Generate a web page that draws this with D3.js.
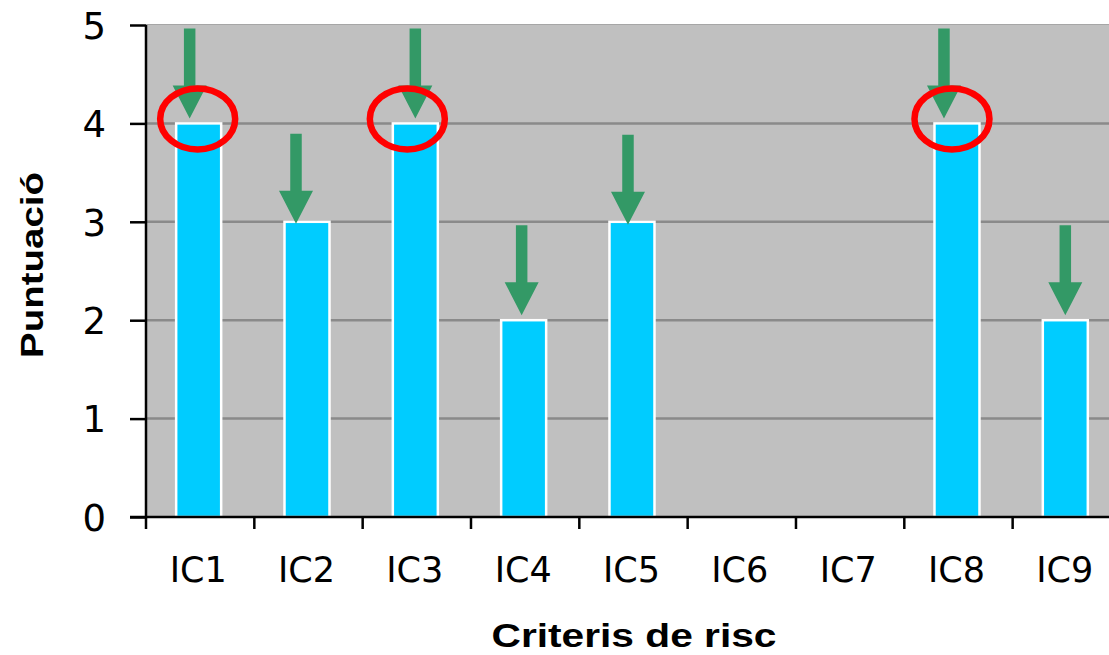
<!DOCTYPE html>
<html>
<head>
<meta charset="utf-8">
<script src="https://cdn.jsdelivr.net/npm/d3@7"></script>
<style>
  html, body { margin: 0; padding: 0; background: #fff; }
  svg { display: block; }
</style>
</head>
<body>
<script>
/* global d3 */
// chart values
const categories = ['IC1', 'IC2', 'IC3', 'IC4', 'IC5', 'IC6', 'IC7', 'IC8', 'IC9'];
const scores = [4, 3, 4, 2, 3, 0, 0, 4, 2];
const yTicks = [0, 1, 2, 3, 4, 5];
// which criteria get a green arrow / red circle
const arrowed = ['IC1', 'IC2', 'IC3', 'IC4', 'IC5', 'IC8', 'IC9'];
const circled = ['IC1', 'IC3', 'IC8'];

(function() {
  'use strict';

  const w = 1109;
  const h = 655;
  const left = 146;
  const top = 25;
  const bottom = 517;
  const step = 108.33;

  // hand-drawn annotations sit a bit off centre, in px
  const arrowShift = { IC1: [-9, 0], IC2: [-11, 7], IC3: [0, 0], IC4: [-2, 0], IC5: [-4, 8], IC8: [-13, 0], IC9: [0, 0] };
  const circleShift = { IC1: [-1, 0], IC3: [-8, 0], IC8: [-5, 0] };

  const xScale = d3.scaleBand()
    .domain(categories)
    .range([left, left + step * categories.length]);

  const yScale = d3.scaleLinear()
    .domain([0, 5])
    .range([bottom, top]);

  const svg = d3.select('body')
    .append('svg')
    .attr('width', w)
    .attr('height', h);

  // plot area
  svg.append('rect')
    .attr('x', left)
    .attr('y', top)
    .attr('width', w - left)
    .attr('height', bottom - top)
    .attr('fill', '#c0c0c0');
  svg.append('line')
    .attr('x1', left).attr('x2', w)
    .attr('y1', top - 0.5).attr('y2', top - 0.5)
    .attr('stroke', '#a6a6a6')
    .attr('stroke-width', 1);

  // gridlines
  svg.append('g')
    .selectAll('line')
    .data(yTicks.filter((d) => d > 0 && d < 5))
    .enter()
    .append('line')
    .attr('x1', left)
    .attr('x2', w)
    .attr('y1', (d) => yScale(d))
    .attr('y2', (d) => yScale(d))
    .attr('stroke', '#8a8a8a')
    .attr('stroke-width', 2.5);

  // bars
  const barW = 45;
  svg.append('g')
    .selectAll('rect')
    .data(categories.map((c, i) => ({ cat: c, v: scores[i] })).filter((d) => d.v > 0))
    .enter()
    .append('rect')
    .attr('x', (d) => xScale(d.cat) + xScale.bandwidth() / 2 - 1.5 - barW / 2)
    .attr('y', (d) => yScale(d.v))
    .attr('width', barW)
    .attr('height', (d) => yScale(0) - yScale(d.v))
    .attr('fill', '#00ccff')
    .attr('stroke', '#ffffff')
    .attr('stroke-width', 2.5);

  // axes
  const yAxis = d3.axisLeft(yScale)
    .tickValues(yTicks)
    .tickFormat(d3.format('d'))
    .tickSize(16)
    .tickPadding(24);
  const gy = svg.append('g')
    .attr('transform', 'translate(' + left + ',0)')
    .call(yAxis);
  gy.select('.domain').remove();
  gy.selectAll('.tick line').attr('stroke', '#000').attr('stroke-width', 2.5);
  gy.selectAll('.tick text')
    .attr('font-family', '"DejaVu Sans", Verdana, sans-serif')
    .attr('font-size', 37)
    .attr('fill', '#000')
    .attr('dy', '0.36em');
  svg.append('line')
    .attr('x1', left).attr('x2', left)
    .attr('y1', top).attr('y2', bottom)
    .attr('stroke', '#000')
    .attr('stroke-width', 2.5);

  svg.append('line')
    .attr('x1', left - 16).attr('x2', w)
    .attr('y1', bottom).attr('y2', bottom)
    .attr('stroke', '#000')
    .attr('stroke-width', 2.5);
  svg.append('g')
    .selectAll('line')
    .data(categories)
    .enter()
    .append('line')
    .attr('x1', (d) => xScale(d))
    .attr('x2', (d) => xScale(d))
    .attr('y1', bottom)
    .attr('y2', bottom + 12)
    .attr('stroke', '#000')
    .attr('stroke-width', 2.5);
  svg.append('g')
    .selectAll('text')
    .data(categories)
    .enter()
    .append('text')
    .attr('x', (d) => xScale(d) + xScale.bandwidth() / 2 - 2)
    .attr('y', 582)
    .attr('text-anchor', 'middle')
    .attr('font-family', '"DejaVu Sans", Verdana, sans-serif')
    .attr('font-size', 35)
    .attr('fill', '#000')
    .text((d) => d);

  // green arrows pointing down at each scored bar
  const shaftW = 11.5;
  const headW = 34;
  const headH = 33;
  const arrowLen = 90;
  svg.append('g')
    .selectAll('path')
    .data(arrowed)
    .enter()
    .append('path')
    .attr('fill', '#339966')
    .attr('d', (c) => {
      const v = scores[categories.indexOf(c)];
      const cx = xScale(c) + xScale.bandwidth() / 2 - 1.5 + arrowShift[c][0];
      const tip = yScale(v) - 5 + arrowShift[c][1];
      const t = tip - arrowLen;
      const hb = tip - headH;
      return 'M' + (cx - shaftW / 2) + ',' + t +
        'L' + (cx + shaftW / 2) + ',' + t +
        'L' + (cx + shaftW / 2) + ',' + hb +
        'L' + (cx + headW / 2) + ',' + hb +
        'L' + cx + ',' + tip +
        'L' + (cx - headW / 2) + ',' + hb +
        'L' + (cx - shaftW / 2) + ',' + hb + 'Z';
    });

  // red circles around the maximum scores
  svg.append('g')
    .selectAll('ellipse')
    .data(circled)
    .enter()
    .append('ellipse')
    .attr('cx', (c) => xScale(c) + xScale.bandwidth() / 2 - 1.5 + circleShift[c][0])
    .attr('cy', (c) => yScale(scores[categories.indexOf(c)]) - 4.5 + circleShift[c][1])
    .attr('rx', 37.5)
    .attr('ry', 30.5)
    .attr('fill', 'none')
    .attr('stroke', '#ff0000')
    .attr('stroke-width', 6.5);

  // axis titles
  svg.append('text')
    .attr('transform', 'translate(43,265) rotate(-90)')
    .attr('text-anchor', 'middle')
    .attr('font-family', '"Liberation Sans", Arial, sans-serif')
    .attr('font-weight', 'bold')
    .attr('font-size', 32)
    .attr('textLength', 186)
    .attr('lengthAdjust', 'spacingAndGlyphs')
    .text('Puntuació');

  svg.append('text')
    .attr('x', 634)
    .attr('y', 647)
    .attr('text-anchor', 'middle')
    .attr('font-family', '"Liberation Sans", Arial, sans-serif')
    .attr('font-weight', 'bold')
    .attr('font-size', 34)
    .attr('textLength', 285)
    .attr('lengthAdjust', 'spacingAndGlyphs')
    .text('Criteris de risc');
}());
</script>
</body>
</html>
